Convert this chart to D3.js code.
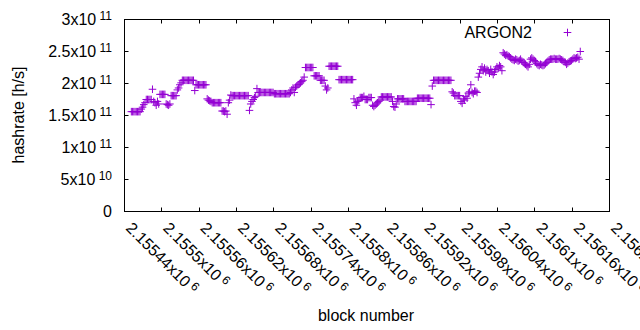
<!DOCTYPE html>
<html>
<head>
<meta charset="utf-8">
<script src="https://cdn.jsdelivr.net/npm/d3@7/dist/d3.min.js"></script>
<style>
  html, body { margin: 0; padding: 0; background: #fff; }
  svg { display: block; }
  text { font-family: "Liberation Sans", Arial, sans-serif; fill: #000; }
</style>
</head>
<body>
<div id="chart"></div>
<script>
// ---- data ----
const seriesName = "ARGON2";
const firstBlock = 2155451;
const blockStep = 2;
// hashrate in units of 1e9 h/s, one value per sampled block
const hashrateG = [
  156,156,156,156,156,156,156,156,
  160,163,167,170,
  175,175,175,175,175,
  191,
  172,170,166,172,168,
  183,183,183,183,183,
  168,167,166,168,
  181,181,181,181,181,
  190,193,198,201,
  205,205,205,205,205,205,205,205,205,205,
  189,
  198,198,198,198,198,198,198,198,198,
  176,174,173,172,
  170,170,170,170,170,170,170,170,
  157,157,156,157,
  152,170,174,182,
  181,181,181,181,181,181,181,181,181,181,181,181,181,181,
  158,
  168,172,175,178,180,
  192,
  186,186,186,186,186,186,186,186,186,186,186,186,186,
  184,184,184,184,184,184,184,184,184,184,184,184,184,
  186,190,193,186,
  194,196,198,199,201,203,
  205,210,
  225,225,225,225,225,225,225,
  212,212,212,212,212,
  205,205,205,205,
  196,190,193,
  227,227,227,227,227,227,227,227,
  206,206,206,206,206,206,206,206,206,206,206,206,
  176,170,166,172,174,
  178,178,178,180,175,175,175,178,178,178,
  166,164,166,168,170,172,
  174,179,179,179,179,179,179,179,179,179,
  172,164,163,168,
  176,176,176,176,176,176,
  172,172,172,172,172,172,172,172,172,172,
  177,177,177,177,177,177,177,177,177,177,177,
  167,196,
  205,205,205,205,205,205,205,205,205,205,205,205,205,205,205,
  187,185,
  181,181,181,181,181,
  172,169,176,174,180,177,
  185,187,198,186,184,188,188,186,
  210,216,222,226,220,224,218,222,
  220,216,222,218,214,218,
  222,226,224,228,226,220,
  248,246,244,245,243,242,240,
  238,237,236,238,237,235,236,238,235,233,
  232,230,228,226,230,
  238,240,238,236,234,
  231,229,228,230,229,228,229,231,233,
  235,237,238,238,238,239,238,238,238,239,238,237,236,
  234,233,230,232,234,235,
  236,238,240,239,240,241,238,
  250
];
const blocks = hashrateG.map((_, i) => firstBlock + i * blockStep);

const xDomain = [2155440, 2156220];
const xTickValues = [2155440,2155500,2155560,2155620,2155680,2155740,2155800,2155860,2155920,2155980,2156040,2156100,2156160,2156220];
const xTickMantissa = ["2.15544","2.1555","2.15556","2.15562","2.15568","2.15574","2.1558","2.15586","2.15592","2.15598","2.15604","2.1561","2.15616","2.15622"];
const xTickExp = "6";

const yDomain = [0, 3e11];
const yTickValues = [0, 5e10, 1e11, 1.5e11, 2e11, 2.5e11, 3e11];
const yTickMantissa = ["0","5","1","1.5","2","2.5","3"];
const yTickExp = ["", "10", "11", "11", "11", "11", "11"];

const xTitle = "block number";
const yTitle = "hashrate [h/s]";

// ---- layout ----
const W = 640, H = 330;
const L = 124.5, R = 609.5, T = 19.5, B = 211.5;
const color = "#9400d3";
const ms = 3.8;   // marker half-size
const tickLen = 4;

const svg = d3.select("#chart").append("svg").attr("width", W).attr("height", H);

const x = d3.scaleLinear().domain(xDomain).range([L, R]);
const y = d3.scaleLinear().domain(yDomain).range([B, T]);

// ticks (inward, mirrored)
const ticksG = svg.append("g").attr("stroke", "#000").attr("stroke-width", 1);
yTickValues.forEach(v => {
  const yy = Math.round(y(v) - 0.5) + 0.5;
  ticksG.append("line").attr("x1", L).attr("x2", L + tickLen).attr("y1", yy).attr("y2", yy);
  ticksG.append("line").attr("x1", R).attr("x2", R - tickLen).attr("y1", yy).attr("y2", yy);
});
xTickValues.forEach(v => {
  const xx = Math.round(x(v) - 0.5) + 0.5;
  ticksG.append("line").attr("x1", xx).attr("x2", xx).attr("y1", B).attr("y2", B - tickLen);
  ticksG.append("line").attr("x1", xx).attr("x2", xx).attr("y1", T).attr("y2", T + tickLen);
});

// border
svg.append("rect").attr("x", L).attr("y", T).attr("width", R - L).attr("height", B - T)
  .attr("fill", "none").attr("stroke", "#000").attr("stroke-width", 1);

// y tick labels
yTickValues.forEach((v, i) => {
  const t = svg.append("text").attr("x", 112).attr("y", y(v) + 5.8)
    .attr("text-anchor", "end").attr("font-size", 16);
  if (yTickExp[i]) {
    t.append("tspan").text(yTickMantissa[i] + "x10");
    t.append("tspan").attr("font-size", 12).attr("dy", -5.5).text("\u00a0" + yTickExp[i]);
  } else {
    t.text(yTickMantissa[i]);
  }
});

// x tick labels (rotated)
xTickValues.forEach((v, i) => {
  const t = svg.append("text")
    .attr("transform", `translate(${x(v) + 0.5},229) rotate(45)`)
    .attr("text-anchor", "start").attr("font-size", 16);
  t.append("tspan").text(xTickMantissa[i] + "x10");
  t.append("tspan").attr("font-size", 12).attr("dy", -5).text("\u00a0" + xTickExp);
});

// axis titles
svg.append("text").attr("transform", "translate(24,115) rotate(-90)")
  .attr("text-anchor", "middle").attr("font-size", 16).text(yTitle);
svg.append("text").attr("x", 366).attr("y", 321)
  .attr("text-anchor", "middle").attr("font-size", 16).text(xTitle);

// points
const plus = (cx, cy) => `M${cx - ms},${cy}H${cx + ms}M${cx},${cy - ms}V${cy + ms}`;
const data = blocks.map((b, i) => ({ b, v: hashrateG[i] * 1e9 }));
svg.append("g").selectAll("path").data(data).join("path")
  .attr("d", d => plus(x(d.b), y(d.v)))
  .attr("stroke", color).attr("stroke-width", 1).attr("fill", "none");

// legend
svg.append("text").attr("x", 532).attr("y", 37.5).attr("text-anchor", "end")
  .attr("font-size", 16).text(seriesName);
svg.append("path").attr("d", plus(567.5, 32.5))
  .attr("stroke", color).attr("stroke-width", 1).attr("fill", "none");
</script>
</body>
</html>
